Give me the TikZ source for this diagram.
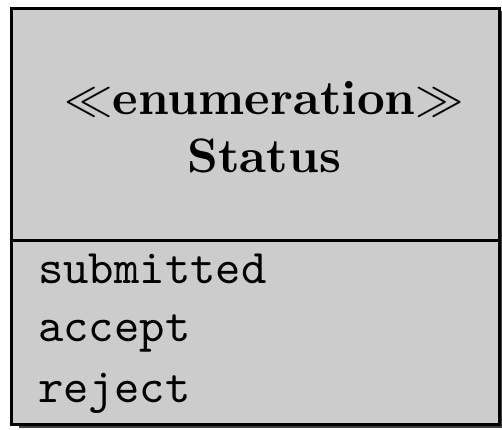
\documentclass[tikz,border=0pt]{standalone}
\usepackage{amssymb}
\begin{document}
\begin{tikzpicture}[x=1pt,y=1pt,
  frame/.style={draw=black,line width=0.62pt,fill=black!20},
  shadowbox/.style={fill=black!75},
  divider/.style={draw=black,line width=0.62pt},
  header/.style={anchor=base,inner sep=0pt,font=\bfseries},
  literal/.style={anchor=base west,inner sep=0pt,font=\ttfamily}]
\useasboundingbox (0,0) rectangle (103.9,-88.8);
\fill[shadowbox] (3.9,-2.3) rectangle (104.0,-88.5);
\path[frame] (2.38,-1.76) rectangle (103.45,-87.9);
\coordinate (dl) at (2.38,-49.8);
\coordinate (dr) at (103.45,-49.8);
\draw[divider] (dl) -- (dr);
\node[header] (stereo) at (54.7,-23.6) {$\ll$enumeration$\gg$};
\node[header] (name) at (54.7,-35.8) {Status};
\node[literal] (l1) at (7.7,-58.65) {submitted};
\node[literal] (l2) at (7.7,-70.75) {accept};
\node[literal] (l3) at (7.7,-83.4) {reject};
\end{tikzpicture}
\end{document}
